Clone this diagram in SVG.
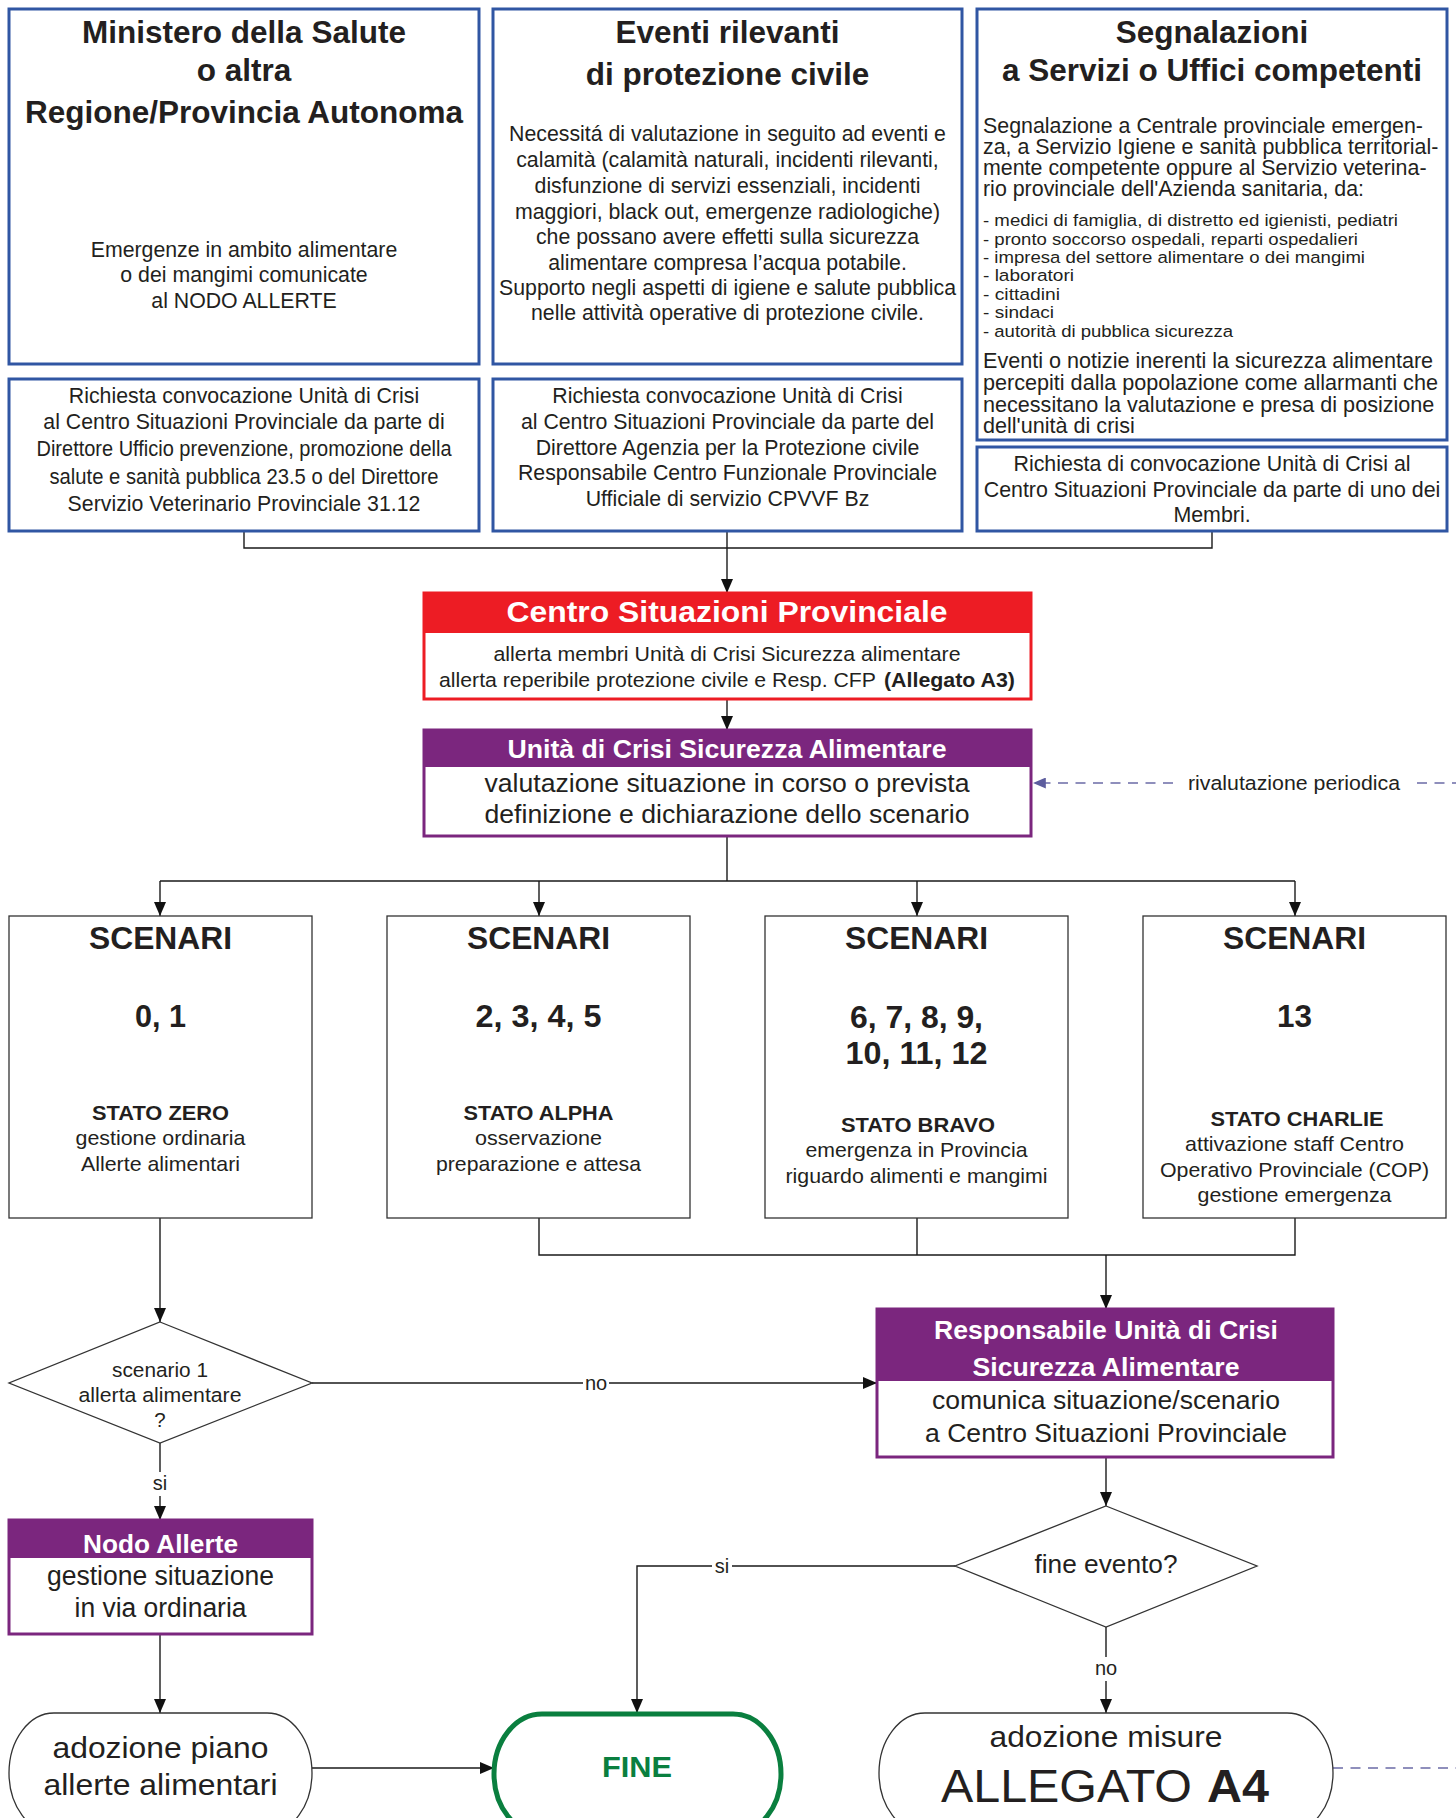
<svg xmlns="http://www.w3.org/2000/svg" width="1456" height="1818" viewBox="0 0 1456 1818">
<style>
.blue{fill:#fff;stroke:#3056a3;stroke-width:3}
.box{fill:#fff;stroke:#333;stroke-width:1.3}
.t{font-family:"Liberation Sans",Arial,sans-serif;fill:#231f20}
.c{text-anchor:middle}
.b{font-weight:bold}
.w{fill:#fff}
.conn{stroke:#1a1a1a;stroke-width:1.4;fill:none}
.dash{stroke:#6b6ba6;stroke-width:1.5;fill:none;stroke-dasharray:10 7.5}
.purple{fill:#7b267e}
.li{font-size:17.2px}
</style>
<defs>
<marker id="ah" viewBox="0 0 14 12" refX="14" refY="6" markerWidth="14" markerHeight="12" markerUnits="userSpaceOnUse" orient="auto"><path d="M0,0 L14,6 L0,12 z" fill="#111"/></marker>
<marker id="ahd" viewBox="0 0 14 12" refX="14" refY="6" markerWidth="13" markerHeight="11" markerUnits="userSpaceOnUse" orient="auto"><path d="M0,0 L14,6 L0,12 z" fill="#5d5d9e"/></marker>
</defs>

<g id="connectors">
<path class="conn" d="M244,531 V548 H1212 V531 M727,531 V548"/>
<path class="conn" d="M727,548 V593" marker-end="url(#ah)"/>
<path class="conn" d="M727,699 V730" marker-end="url(#ah)"/>
<path class="conn" d="M727,836 V881 M160,881 H1295"/>
<path class="conn" d="M160,881 V916" marker-end="url(#ah)"/>
<path class="conn" d="M539,881 V916" marker-end="url(#ah)"/>
<path class="conn" d="M917,881 V916" marker-end="url(#ah)"/>
<path class="conn" d="M1295,881 V916" marker-end="url(#ah)"/>
<path class="conn" d="M160,1218 V1322" marker-end="url(#ah)"/>
<path class="conn" d="M539,1218 V1255 H1295 V1218 M917,1218 V1255"/>
<path class="conn" d="M1106,1255 V1309" marker-end="url(#ah)"/>
<path class="conn" d="M312,1383 H877" marker-end="url(#ah)"/>
<path class="conn" d="M160,1443 V1520" marker-end="url(#ah)"/>
<path class="conn" d="M160,1634 V1713" marker-end="url(#ah)"/>
<path class="conn" d="M312,1768 H494" marker-end="url(#ah)"/>
<path class="conn" d="M1106,1457 V1506" marker-end="url(#ah)"/>
<path class="conn" d="M955,1566 H637 V1713" marker-end="url(#ah)"/>
<path class="conn" d="M1106,1627 V1713" marker-end="url(#ah)"/>
<path class="dash" d="M1173,783 H1033" marker-end="url(#ahd)"/>
<path class="dash" d="M1417,783 H1456"/>
<path class="dash" d="M1333,1768 H1456"/>
<rect x="583" y="1372" width="26" height="22" fill="#fff"/>
<text class="t c" x="596" y="1390" font-size="20">no</text>
<rect x="150" y="1472" width="20" height="24" fill="#fff"/>
<text class="t c" x="160" y="1490" font-size="20">si</text>
<rect x="712" y="1555" width="20" height="22" fill="#fff"/>
<text class="t c" x="722" y="1573" font-size="20">si</text>
<rect x="1093" y="1657" width="26" height="24" fill="#fff"/>
<text class="t c" x="1106" y="1675" font-size="20">no</text>
<text class="t" x="1188" y="790" font-size="20.5" textLength="212" lengthAdjust="spacingAndGlyphs">rivalutazione periodica</text>
</g>

<g id="ministero">
<rect class="blue" x="9" y="9" width="470" height="355"/>
<text class="t c b" x="244" y="43" font-size="31.5">Ministero della Salute</text>
<text class="t c b" x="244" y="81" font-size="31.5">o altra</text>
<text class="t c b" x="244" y="123" font-size="31.5">Regione/Provincia Autonoma</text>
<text class="t c" x="244" y="257" font-size="21.3">Emergenze in ambito alimentare</text>
<text class="t c" x="244" y="282" font-size="21.3">o dei mangimi comunicate</text>
<text class="t c" x="244" y="308" font-size="21.3">al NODO ALLERTE</text>
</g>
<g id="richiesta1">
<rect class="blue" x="9" y="379" width="470" height="152"/>
<text class="t c" x="244" y="403" font-size="21.3">Richiesta convocazione Unità di Crisi</text>
<text class="t c" x="244" y="429" font-size="21.3">al Centro Situazioni Provinciale da parte di</text>
<text class="t c" x="244" y="456" font-size="21.3" textLength="415" lengthAdjust="spacingAndGlyphs">Direttore Ufficio prevenzione, promozione della</text>
<text class="t c" x="244" y="484" font-size="21.3" textLength="389" lengthAdjust="spacingAndGlyphs">salute e sanità pubblica 23.5 o del Direttore</text>
<text class="t c" x="244" y="511" font-size="21.3">Servizio Veterinario Provinciale 31.12</text>
</g>

<g id="eventi">
<rect class="blue" x="493" y="9" width="469" height="355"/>
<text class="t c b" x="727.5" y="43" font-size="31.5">Eventi rilevanti</text>
<text class="t c b" x="727.5" y="85" font-size="31.5">di protezione civile</text>
<text class="t c" x="727.5" y="141" font-size="21.3">Necessitá di valutazione in seguito ad eventi e</text>
<text class="t c" x="727.5" y="167" font-size="21.3">calamità (calamità naturali, incidenti rilevanti,</text>
<text class="t c" x="727.5" y="193" font-size="21.3">disfunzione di servizi essenziali, incidenti</text>
<text class="t c" x="727.5" y="219" font-size="21.3">maggiori, black out, emergenze radiologiche)</text>
<text class="t c" x="727.5" y="244" font-size="21.3">che possano avere effetti sulla sicurezza</text>
<text class="t c" x="727.5" y="270" font-size="21.3">alimentare compresa l’acqua potabile.</text>
<text class="t c" x="727.5" y="295" font-size="21.3">Supporto negli aspetti di igiene e salute pubblica</text>
<text class="t c" x="727.5" y="320" font-size="21.3">nelle attività operative di protezione civile.</text>
</g>
<g id="richiesta2">
<rect class="blue" x="493" y="379" width="469" height="152"/>
<text class="t c" x="727.5" y="403" font-size="21.3">Richiesta convocazione Unità di Crisi</text>
<text class="t c" x="727.5" y="429" font-size="21.3">al Centro Situazioni Provinciale da parte del</text>
<text class="t c" x="727.5" y="454.5" font-size="21.3">Direttore Agenzia per la Protezione civile</text>
<text class="t c" x="727.5" y="480" font-size="21.3">Responsabile Centro Funzionale Provinciale</text>
<text class="t c" x="727.5" y="505.5" font-size="21.3">Ufficiale di servizio CPVVF Bz</text>
</g>

<g id="segnalazioni">
<rect class="blue" x="977" y="9" width="470" height="431"/>
<text class="t c b" x="1212" y="43" font-size="31.5">Segnalazioni</text>
<text class="t c b" x="1212" y="81" font-size="31.5">a Servizi o Uffici competenti</text>
<text class="t" x="983" y="133" font-size="21.4">Segnalazione a Centrale provinciale emergen-</text>
<text class="t" x="983" y="153.5" font-size="21.4">za, a Servizio Igiene e sanità pubblica territorial-</text>
<text class="t" x="983" y="175" font-size="21.4">mente competente oppure al Servizio veterina-</text>
<text class="t" x="983" y="196" font-size="21.4">rio provinciale dell'Azienda sanitaria, da:</text>
<text class="t li" x="983" y="225.5" textLength="415" lengthAdjust="spacingAndGlyphs">- medici di famiglia, di distretto ed igienisti, pediatri</text>
<text class="t li" x="983" y="244.5" textLength="375" lengthAdjust="spacingAndGlyphs">- pronto soccorso ospedali, reparti ospedalieri</text>
<text class="t li" x="983" y="263" textLength="382" lengthAdjust="spacingAndGlyphs">- impresa del settore alimentare o dei mangimi</text>
<text class="t li" x="983" y="281" textLength="91" lengthAdjust="spacingAndGlyphs">- laboratori</text>
<text class="t li" x="983" y="299.5" textLength="77" lengthAdjust="spacingAndGlyphs">- cittadini</text>
<text class="t li" x="983" y="318" textLength="71" lengthAdjust="spacingAndGlyphs">- sindaci</text>
<text class="t li" x="983" y="336.5" textLength="250" lengthAdjust="spacingAndGlyphs">- autorità di pubblica sicurezza</text>
<text class="t" x="983" y="367.5" font-size="21.6">Eventi o notizie inerenti la sicurezza alimentare</text>
<text class="t" x="983" y="389.5" font-size="21.6">percepiti dalla popolazione come allarmanti che</text>
<text class="t" x="983" y="411.5" font-size="21.6">necessitano la valutazione e presa di posizione</text>
<text class="t" x="983" y="433" font-size="21.6">dell'unità di crisi</text>
</g>
<g id="richiesta3">
<rect class="blue" x="977" y="447" width="470" height="84"/>
<text class="t c" x="1212" y="471" font-size="21.4">Richiesta di convocazione Unità di Crisi al</text>
<text class="t c" x="1212" y="497" font-size="21.4">Centro Situazioni Provinciale da parte di uno dei</text>
<text class="t c" x="1212" y="522" font-size="21.4">Membri.</text>
</g>

<g id="csp">
<rect x="424" y="593" width="607" height="106" fill="#fff" stroke="#ed1c24" stroke-width="3"/>
<rect x="424" y="593" width="607" height="40" fill="#ed1c24"/>
<text class="t c b w" x="727" y="622" font-size="29" textLength="441" lengthAdjust="spacingAndGlyphs">Centro Situazioni Provinciale</text>
<text class="t c" x="727" y="661" font-size="20.5" textLength="467" lengthAdjust="spacingAndGlyphs">allerta membri Unità di Crisi Sicurezza alimentare</text>
<text class="t" x="439" y="687" font-size="20.5" textLength="437" lengthAdjust="spacingAndGlyphs">allerta reperibile protezione civile e Resp. CFP</text>
<text class="t b" x="884" y="687" font-size="20.5" textLength="131" lengthAdjust="spacingAndGlyphs">(Allegato A3)</text>
</g>

<g id="ucsa">
<rect x="424" y="730" width="607" height="106" fill="#fff" stroke="#7b267e" stroke-width="3"/>
<rect class="purple" x="424" y="730" width="607" height="37"/>
<text class="t c b w" x="727" y="758" font-size="26" textLength="439" lengthAdjust="spacingAndGlyphs">Unità di Crisi Sicurezza Alimentare</text>
<text class="t c" x="727" y="792" font-size="26.5" textLength="485" lengthAdjust="spacingAndGlyphs">valutazione situazione in corso o prevista</text>
<text class="t c" x="727" y="823" font-size="26.5" textLength="485" lengthAdjust="spacingAndGlyphs">definizione e dichiarazione dello scenario</text>
</g>

<g id="scenari01">
<rect class="box" x="9" y="916" width="303" height="302"/>
<text class="t c b" x="160.5" y="949" font-size="31" textLength="143" lengthAdjust="spacingAndGlyphs">SCENARI</text>
<text class="t c b" x="160.5" y="1027" font-size="31" textLength="51" lengthAdjust="spacingAndGlyphs">0, 1</text>
<text class="t c b" x="160.5" y="1120" font-size="20.5" textLength="137" lengthAdjust="spacingAndGlyphs">STATO ZERO</text>
<text class="t c" x="160.5" y="1145" font-size="21" textLength="170" lengthAdjust="spacingAndGlyphs">gestione ordinaria</text>
<text class="t c" x="160.5" y="1171" font-size="21" textLength="159" lengthAdjust="spacingAndGlyphs">Allerte alimentari</text>
</g>
<g id="scenari2345">
<rect class="box" x="387" y="916" width="303" height="302"/>
<text class="t c b" x="538.5" y="949" font-size="31" textLength="143" lengthAdjust="spacingAndGlyphs">SCENARI</text>
<text class="t c b" x="538.5" y="1027" font-size="31" textLength="126" lengthAdjust="spacingAndGlyphs">2, 3, 4, 5</text>
<text class="t c b" x="538.5" y="1120" font-size="20.5" textLength="150" lengthAdjust="spacingAndGlyphs">STATO ALPHA</text>
<text class="t c" x="538.5" y="1145" font-size="21" textLength="127" lengthAdjust="spacingAndGlyphs">osservazione</text>
<text class="t c" x="538.5" y="1171" font-size="21" textLength="205" lengthAdjust="spacingAndGlyphs">preparazione e attesa</text>
</g>
<g id="scenari6-12">
<rect class="box" x="765" y="916" width="303" height="302"/>
<text class="t c b" x="916.5" y="949" font-size="31" textLength="143" lengthAdjust="spacingAndGlyphs">SCENARI</text>
<text class="t c b" x="916.5" y="1028" font-size="31" textLength="133" lengthAdjust="spacingAndGlyphs">6, 7, 8, 9,</text>
<text class="t c b" x="916.5" y="1064" font-size="31" textLength="142" lengthAdjust="spacingAndGlyphs">10, 11, 12</text>
<text class="t c b" x="918" y="1132" font-size="20.5" textLength="154" lengthAdjust="spacingAndGlyphs">STATO BRAVO</text>
<text class="t c" x="916.5" y="1157" font-size="21" textLength="222" lengthAdjust="spacingAndGlyphs">emergenza in Provincia</text>
<text class="t c" x="916.5" y="1183" font-size="21" textLength="262" lengthAdjust="spacingAndGlyphs">riguardo alimenti e mangimi</text>
</g>
<g id="scenari13">
<rect class="box" x="1143" y="916" width="303" height="302"/>
<text class="t c b" x="1294.5" y="949" font-size="31" textLength="143" lengthAdjust="spacingAndGlyphs">SCENARI</text>
<text class="t c b" x="1294.5" y="1027" font-size="31" textLength="35" lengthAdjust="spacingAndGlyphs">13</text>
<text class="t c b" x="1297" y="1126" font-size="20.5" textLength="173" lengthAdjust="spacingAndGlyphs">STATO CHARLIE</text>
<text class="t c" x="1294.5" y="1151" font-size="21" textLength="219" lengthAdjust="spacingAndGlyphs">attivazione staff Centro</text>
<text class="t c" x="1294.5" y="1177" font-size="21" textLength="269" lengthAdjust="spacingAndGlyphs">Operativo Provinciale (COP)</text>
<text class="t c" x="1294.5" y="1202" font-size="21" textLength="194" lengthAdjust="spacingAndGlyphs">gestione emergenza</text>
</g>

<g id="decisione1">
<polygon points="160,1322 312,1383 160,1443 9,1383" fill="#fff" stroke="#333" stroke-width="1.3"/>
<text class="t c" x="160" y="1377" font-size="20.5" textLength="96" lengthAdjust="spacingAndGlyphs">scenario 1</text>
<text class="t c" x="160" y="1402" font-size="20.5" textLength="163" lengthAdjust="spacingAndGlyphs">allerta alimentare</text>
<text class="t c" x="160" y="1427" font-size="20.5">?</text>
</g>

<g id="nodo">
<rect x="9" y="1520" width="303" height="114" fill="#fff" stroke="#7b267e" stroke-width="3"/>
<rect class="purple" x="9" y="1520" width="303" height="38"/>
<text class="t c b w" x="160.5" y="1553" font-size="26" textLength="155" lengthAdjust="spacingAndGlyphs">Nodo Allerte</text>
<text class="t c" x="160.5" y="1585" font-size="27" textLength="227" lengthAdjust="spacingAndGlyphs">gestione situazione</text>
<text class="t c" x="160.5" y="1617" font-size="27" textLength="172" lengthAdjust="spacingAndGlyphs">in via ordinaria</text>
</g>

<g id="responsabile">
<rect x="877" y="1309" width="456" height="148" fill="#fff" stroke="#7b267e" stroke-width="3"/>
<rect class="purple" x="877" y="1309" width="456" height="72"/>
<text class="t c b w" x="1106" y="1339" font-size="26.5" textLength="344" lengthAdjust="spacingAndGlyphs">Responsabile Unità di Crisi</text>
<text class="t c b w" x="1106" y="1376" font-size="26.5" textLength="267" lengthAdjust="spacingAndGlyphs">Sicurezza Alimentare</text>
<text class="t c" x="1106" y="1409" font-size="26.5" textLength="348" lengthAdjust="spacingAndGlyphs">comunica situazione/scenario</text>
<text class="t c" x="1106" y="1442" font-size="26.5" textLength="362" lengthAdjust="spacingAndGlyphs">a Centro Situazioni Provinciale</text>
</g>

<g id="fineevento">
<polygon points="1106,1506 1257,1566 1106,1627 955,1566" fill="#fff" stroke="#333" stroke-width="1.3"/>
<text class="t c" x="1106" y="1573" font-size="25" textLength="143" lengthAdjust="spacingAndGlyphs">fine evento?</text>
</g>

<g id="adozionepiano">
<rect x="9" y="1713" width="303" height="120" rx="45" ry="60" fill="#fff" stroke="#333" stroke-width="1.3"/>
<text class="t c" x="160.5" y="1758" font-size="30" textLength="216" lengthAdjust="spacingAndGlyphs">adozione piano</text>
<text class="t c" x="160.5" y="1795" font-size="30" textLength="234" lengthAdjust="spacingAndGlyphs">allerte alimentari</text>
</g>

<g id="fine">
<rect x="494" y="1714" width="287" height="120" rx="48" ry="60" fill="#fff" stroke="#0a7f3f" stroke-width="5"/>
<text class="t c b" x="637" y="1777" font-size="30" style="fill:#0a7f3f" textLength="70" lengthAdjust="spacingAndGlyphs">FINE</text>
</g>

<g id="adozionemisure">
<rect x="879" y="1713" width="454" height="120" rx="46" ry="60" fill="#fff" stroke="#333" stroke-width="1.3"/>
<text class="t c" x="1106" y="1747" font-size="29" textLength="233" lengthAdjust="spacingAndGlyphs">adozione misure</text>
<text class="t" x="941" y="1802" font-size="46" textLength="251" lengthAdjust="spacingAndGlyphs">ALLEGATO</text>
<text class="t b" x="1207" y="1802" font-size="46" textLength="62" lengthAdjust="spacingAndGlyphs">A4</text>
</g>
</svg>
